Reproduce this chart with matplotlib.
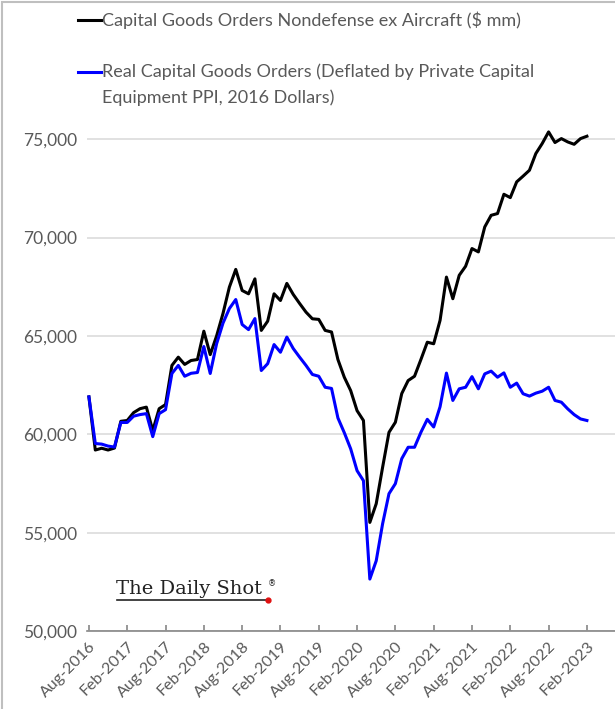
import matplotlib.pyplot as plt
from matplotlib.lines import Line2D
from matplotlib.patches import Rectangle
from matplotlib.ticker import FuncFormatter

# monthly, Aug-2016 .. Feb-2023
nominal = [61900, 59200, 59290, 59200, 59300, 60660, 60700, 61100, 61300, 61380,
           60190, 61300, 61510, 63500, 63920, 63550, 63750, 63800, 65240, 64050,
           65000, 66140, 67480, 68380, 67310, 67140, 67900, 65280, 65750, 67140,
           66800, 67670, 67110, 66650, 66210, 65870, 65840, 65280, 65200, 63800,
           62900, 62220, 61200, 60700, 55520, 56470, 58320, 60100, 60610, 62070,
           62730, 62950, 63800, 64680, 64600, 65790, 67990, 66890, 68080, 68540,
           69440, 69270, 70540, 71130, 71220, 72200, 72030, 72830, 73120, 73420,
           74270, 74780, 75370, 74830, 75030, 74860, 74740, 75030, 75150]
real = [61900, 59530, 59500, 59400, 59350, 60600, 60600, 60920, 61000, 61050,
        59880, 61050, 61250, 63090, 63500, 62950, 63100, 63140, 64460, 63090,
        64600, 65650, 66390, 66850, 65580, 65320, 65880, 63240, 63590, 64560,
        64170, 64940, 64360, 63920, 63500, 63040, 62950, 62390, 62330, 60830,
        60080, 59260, 58150, 57640, 52640, 53570, 55450, 56980, 57490, 58760,
        59340, 59340, 60100, 60760, 60370, 61400, 63110, 61720, 62310, 62390,
        62930, 62310, 63070, 63210, 62900, 63120, 62390, 62600, 62060, 61940,
        62090, 62190, 62390, 61720, 61630, 61290, 61000, 60780, 60700]
tick_labels = ["Aug-2016", "Feb-2017", "Aug-2017", "Feb-2018", "Aug-2018",
               "Feb-2019", "Aug-2019", "Feb-2020", "Aug-2020", "Feb-2021",
               "Aug-2021", "Feb-2022", "Aug-2022", "Feb-2023"]
legend_labels = ["Capital Goods Orders Nondefense ex Aircraft ($ mm)",
                 "Real Capital Goods Orders (Deflated by Private Capital",
                 "Equipment PPI, 2016 Dollars)"]

grey = "#595959"
plt.rcParams["font.family"] = ["Lato", "DejaVu Sans"]

fig = plt.figure(figsize=(6.15, 7.09), dpi=100)
ax = fig.add_axes([87 / 615, 1 - 631 / 709, 1 - 87 / 615, (631 - 90) / 709])

x = list(range(len(nominal)))
ax.plot(x, nominal, color="black", lw=2.2, solid_joinstyle="round", zorder=3)
ax.plot(x, real, color="#0000ff", lw=2.2, solid_joinstyle="round", zorder=3)

ax.set_xlim(-0.3, 82.4)
ax.set_ylim(50000, 77500)
ax.set_yticks(range(50000, 75001, 5000))
ax.yaxis.set_major_formatter(FuncFormatter(lambda v, p: f"{v:,.0f}"))
ax.set_xticks(range(0, len(nominal), 6))
ax.set_xticklabels(tick_labels, rotation=45, ha="right", rotation_mode="anchor")

ax.grid(axis="y", color="#d9d9d9", lw=1.1)
ax.set_axisbelow(True)
for s in ["left", "right", "top"]:
    ax.spines[s].set_visible(False)
ax.spines["bottom"].set_color("#868686")
ax.spines["bottom"].set_linewidth(1.2)
ax.tick_params(axis="y", length=0, pad=7, labelsize=12.5, labelcolor=grey)
ax.tick_params(axis="x", direction="in", length=4, width=1.2, color="#868686",
               labelsize=11.5, labelcolor=grey, pad=6)

# legend, drawn by hand so the blue key sits on the first text line
def key(y, color):
    fig.add_artist(Line2D([78 / 615, 101 / 615], [1 - y / 709] * 2,
                          color=color, lw=2.2, transform=fig.transFigure))

key(20, "black")
key(72, "#0000ff")
for y, txt in zip([20, 72, 98], legend_labels):
    fig.text(102 / 615, 1 - y / 709, txt, color=grey, fontsize=13, va="center")

# watermark
fig.text(116 / 615, 1 - 594 / 709, "The Daily Shot", family="DejaVu Serif",
         fontsize=14, color="#222222", va="baseline")
fig.text(268 / 615, 1 - 586 / 709, "®", family="DejaVu Sans", fontsize=6, color="#222222")
fig.add_artist(Line2D([117 / 615, 266 / 615], [1 - 600 / 709] * 2, color="#222222",
                      lw=1.2, transform=fig.transFigure))
fig.add_artist(Line2D([268 / 615], [1 - 600 / 709], marker="o", ms=3.5,
                      color="#e01010", transform=fig.transFigure))

# thin frame around the picture
fig.add_artist(Rectangle((2 / 615, -0.01), 1.05, 1 - 1.5 / 709 + 0.01, fill=False,
                         edgecolor="#bfbfbf", lw=1.5, transform=fig.transFigure))

plt.savefig("out.png", dpi=100)
